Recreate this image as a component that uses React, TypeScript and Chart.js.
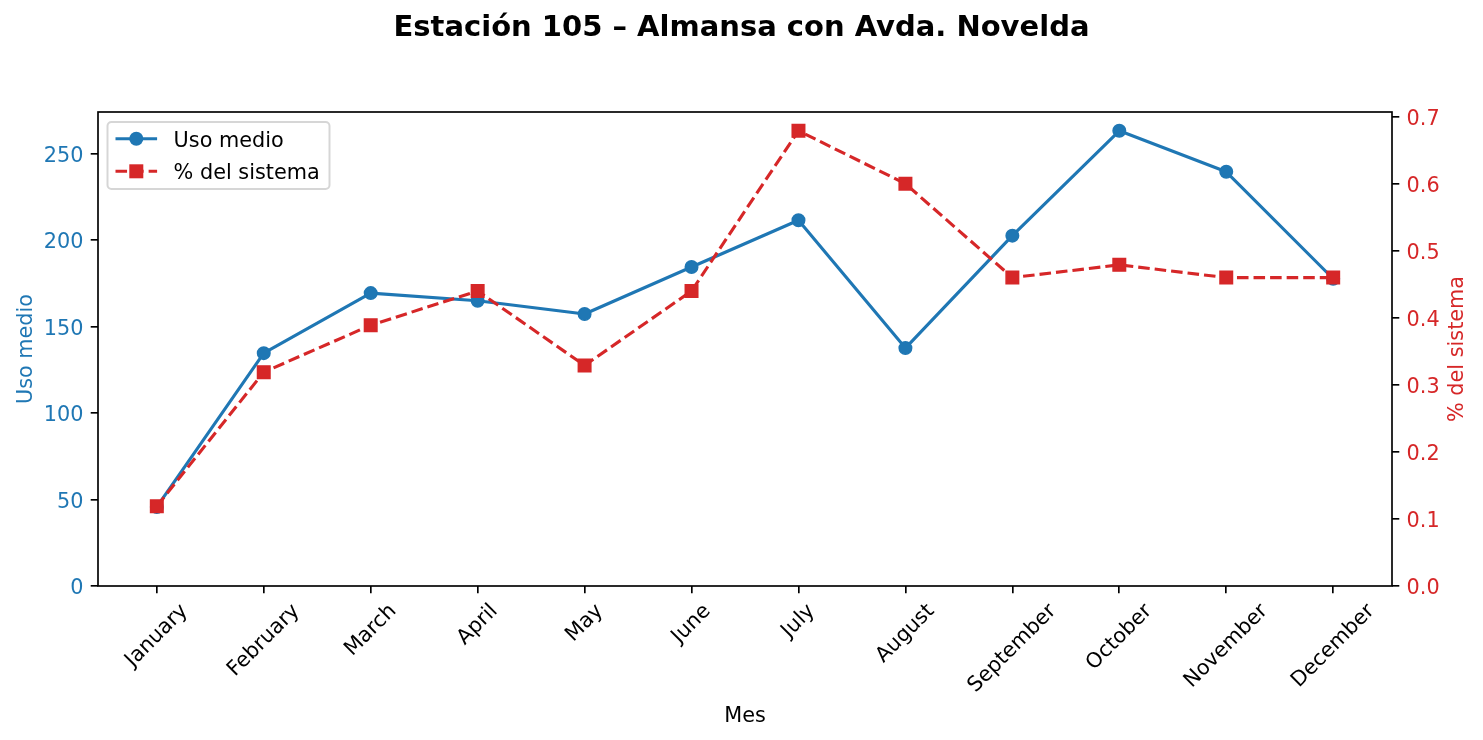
import React, { useEffect, useRef } from 'react';
import { Chart, registerables } from 'chart.js';

Chart.register(...registerables);

// ---- Data ----
const months = [
  'January', 'February', 'March', 'April', 'May', 'June',
  'July', 'August', 'September', 'October', 'November', 'December',
];
const usoMedio = [45.7, 134.6, 169.3, 164.9, 157.2, 184.4, 211.4, 137.5, 202.5, 263.1, 239.4, 177.6];
const pctSistema = [0.119, 0.319, 0.389, 0.44, 0.329, 0.44, 0.679, 0.6, 0.46, 0.479, 0.46, 0.46];
const leftTicks = [0, 50, 100, 150, 200, 250];
const rightTicks = [0, 0.1, 0.2, 0.3, 0.4, 0.5, 0.6, 0.7];

const titleText = 'Estación 105 – Almansa con Avda. Novelda';
const xTitle = 'Mes';
const leftTitle = 'Uso medio';
const rightTitle = '% del sistema';
const legendLabels = ['Uso medio', '% del sistema'];

// ---- Style ----
const BLUE = '#1f77b4';
const RED = '#d62728';
const FONT = '"DejaVu Sans", sans-serif';
const FS = 20.8;
const PT = 2.0833;

function marginMax(arr: number[]) {
  const mn = Math.min(...arr);
  const mx = Math.max(...arr);
  return mx + 0.05 * (mx - mn);
}

const decorPlugin = {
  id: 'decor',
  afterDatasetsDraw(chart: any) {
    const { ctx, chartArea: ca } = chart;
    ctx.save();
    // axes frame
    ctx.strokeStyle = '#000';
    ctx.lineWidth = 0.8 * PT;
    ctx.strokeRect(ca.left, ca.top, ca.right - ca.left, ca.bottom - ca.top);

    // legend
    const bx = ca.left + 9.5, by = ca.top + 10, bw = 222, bh = 67, r = 4;
    ctx.beginPath();
    ctx.moveTo(bx + r, by);
    ctx.lineTo(bx + bw - r, by);
    ctx.arcTo(bx + bw, by, bx + bw, by + r, r);
    ctx.lineTo(bx + bw, by + bh - r);
    ctx.arcTo(bx + bw, by + bh, bx + bw - r, by + bh, r);
    ctx.lineTo(bx + r, by + bh);
    ctx.arcTo(bx, by + bh, bx, by + bh - r, r);
    ctx.lineTo(bx, by + r);
    ctx.arcTo(bx, by, bx + r, by, r);
    ctx.closePath();
    ctx.fillStyle = 'rgba(255,255,255,0.8)';
    ctx.fill();
    ctx.strokeStyle = 'rgba(204,204,204,0.8)';
    ctx.lineWidth = 2;
    ctx.stroke();

    const x0 = bx + 8, x1 = x0 + 2 * FS, xm = (x0 + x1) / 2;
    const rows = [by + 16.7, by + 49.3];
    // row 1: blue solid + circle
    ctx.strokeStyle = BLUE;
    ctx.lineWidth = 1.5 * PT;
    ctx.setLineDash([]);
    ctx.beginPath();
    ctx.moveTo(x0, rows[0]);
    ctx.lineTo(x1, rows[0]);
    ctx.stroke();
    ctx.fillStyle = BLUE;
    ctx.beginPath();
    ctx.arc(xm, rows[0], 7, 0, Math.PI * 2);
    ctx.fill();
    // row 2: red dashed + square
    ctx.strokeStyle = RED;
    ctx.setLineDash([3.7 * 1.5 * PT, 1.6 * 1.5 * PT]);
    ctx.beginPath();
    ctx.moveTo(x0, rows[1]);
    ctx.lineTo(x1, rows[1]);
    ctx.stroke();
    ctx.setLineDash([]);
    ctx.fillStyle = RED;
    ctx.fillRect(xm - 7, rows[1] - 7, 14, 14);

    ctx.fillStyle = '#000';
    ctx.font = `${FS}px ${FONT}`;
    ctx.textAlign = 'left';
    ctx.textBaseline = 'alphabetic';
    legendLabels.forEach((t, i) => ctx.fillText(t, x1 + 16.5, rows[i] + 7.8));
    ctx.restore();
  },
  afterDraw(chart: any) {
    const { ctx, chartArea: ca, scales } = chart;
    const W = chart.width;
    ctx.save();
    // Title
    ctx.fillStyle = '#000';
    ctx.font = `bold 29px ${FONT}`;
    ctx.textAlign = 'center';
    ctx.textBaseline = 'alphabetic';
    ctx.fillText(titleText, W / 2, 36);

    // x tick labels rotated 45 deg, centred like matplotlib
    ctx.font = `${FS}px ${FONT}`;
    const xs = scales.x;
    const top = ca.bottom + 3.5 * PT + 3.5 * PT;
    months.forEach((m, i) => {
      const px = xs.getPixelForValue(i);
      const w = ctx.measureText(m).width;
      const d = (w + FS) / Math.SQRT2;
      ctx.save();
      ctx.translate(px, top + d / 2);
      ctx.rotate(-Math.PI / 4);
      ctx.textAlign = 'center';
      ctx.fillText(m, 0, 0.262 * FS);
      ctx.restore();
    });

    // x title
    ctx.fillText(xTitle, (ca.left + ca.right) / 2, 722);

    // left title
    const cy = (ca.top + ca.bottom) / 2;
    ctx.fillStyle = BLUE;
    ctx.save();
    ctx.translate(31.5, cy);
    ctx.rotate(-Math.PI / 2);
    ctx.fillText(leftTitle, 0, 0);
    ctx.restore();

    // right title
    ctx.fillStyle = RED;
    ctx.save();
    ctx.translate(1463, cy);
    ctx.rotate(-Math.PI / 2);
    ctx.fillText(rightTitle, 0, 0);
    ctx.restore();
    ctx.restore();
  },
};

export default function App() {
  const ref = useRef<HTMLCanvasElement | null>(null);

  useEffect(() => {
    const canvas = ref.current;
    if (!canvas) return;
    const gridOpts = {
      display: true,
      drawOnChartArea: false,
      drawTicks: true,
      tickLength: 3.5 * PT,
      tickWidth: 0.8 * PT,
      lineWidth: 0.8 * PT,
      tickColor: '#000',
      color: '#000',
    };
    const chart = new Chart(canvas, {
      type: 'line',
      data: {
        datasets: [
          {
            label: legendLabels[0],
            data: usoMedio.map((v, i) => ({ x: i, y: v })),
            yAxisID: 'y',
            borderColor: BLUE,
            backgroundColor: BLUE,
            borderWidth: 1.5 * PT,
            pointStyle: 'circle',
            pointRadius: 6.25,
            pointBorderWidth: 1.5,
            pointBackgroundColor: BLUE,
            pointBorderColor: BLUE,
            borderJoinStyle: 'round',
            tension: 0,
            order: 2,
          },
          {
            label: legendLabels[1],
            data: pctSistema.map((v, i) => ({ x: i, y: v })),
            yAxisID: 'y1',
            borderColor: RED,
            backgroundColor: RED,
            borderWidth: 1.5 * PT,
            borderDash: [3.7 * 1.5 * PT, 1.6 * 1.5 * PT],
            pointStyle: 'rect',
            pointRadius: 8.84,
            pointBorderWidth: 1.5,
            pointBackgroundColor: RED,
            pointBorderColor: RED,
            borderJoinStyle: 'round',
            tension: 0,
            order: 1,
          },
        ],
      },
      options: {
        responsive: false,
        animation: false,
        events: [],
        devicePixelRatio: 1,
        layout: { padding: { top: 112, left: 0, right: 0, bottom: 0 } },
        plugins: {
          legend: { display: false },
          title: { display: false },
          tooltip: { enabled: false },
        },
        scales: {
          x: {
            type: 'linear',
            position: 'bottom',
            min: -0.55,
            max: months.length - 1 + 0.55,
            grid: gridOpts,
            border: { display: false },
            ticks: { display: false },
            afterBuildTicks: (s: any) => {
              s.ticks = months.map((_, i) => ({ value: i }));
            },
            afterFit: (s: any) => {
              s.height = 154;
            },
          },
          y: {
            type: 'linear',
            position: 'left',
            min: 0,
            max: marginMax(usoMedio),
            grid: gridOpts,
            border: { display: false },
            ticks: {
              color: BLUE,
              padding: 3.5 * PT,
              labelOffset: 3,
              font: { family: FONT, size: FS },
              callback: (v: any) => String(Math.round(Number(v))),
            },
            afterBuildTicks: (s: any) => {
              s.ticks = leftTicks.map((v) => ({ value: v }));
            },
            afterFit: (s: any) => {
              s.width = 98;
            },
          },
          y1: {
            type: 'linear',
            position: 'right',
            min: 0,
            max: marginMax(pctSistema),
            grid: gridOpts,
            border: { display: false },
            ticks: {
              color: RED,
              padding: 3.5 * PT,
              labelOffset: 3,
              font: { family: FONT, size: FS },
              callback: (v: any) => Number(v).toFixed(1),
            },
            afterBuildTicks: (s: any) => {
              s.ticks = rightTicks.map((v) => ({ value: v }));
            },
            afterFit: (s: any) => {
              s.width = 91;
            },
          },
        },
      },
      plugins: [decorPlugin],
    } as any);
    return () => chart.destroy();
  }, []);

  return (
    <div style={{ position: 'fixed', left: 0, top: 0, width: 1483, height: 740, background: '#fff' }}>
      <canvas ref={ref} width={1483} height={740} style={{ width: 1483, height: 740, display: 'block' }} />
    </div>
  );
}
